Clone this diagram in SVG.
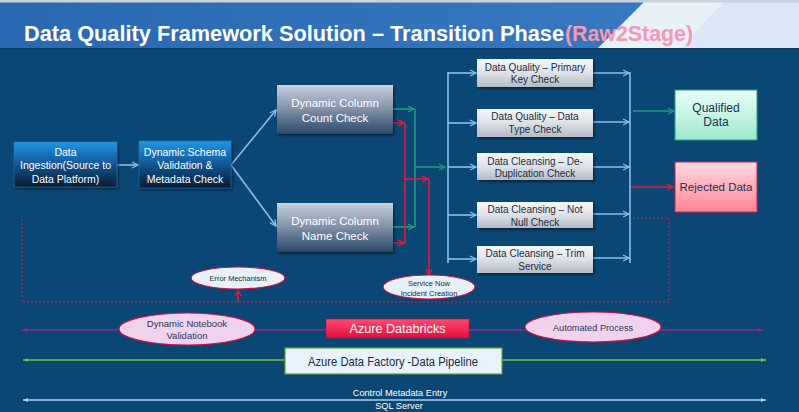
<svg xmlns="http://www.w3.org/2000/svg" width="799" height="412" viewBox="0 0 799 412">
<defs>
<style>
.t{font-family:"Liberation Sans",Arial,sans-serif;text-anchor:middle}
.w{fill:#ffffff}
.d{fill:#1c2c44}
.bl{fill:none;stroke:#8fbce6;stroke-width:1.6}
.gr{fill:none;stroke:#1f9a7c;stroke-width:1.6}
.rd{fill:none;stroke:#e8183c;stroke-width:1.6}
.dot{fill:none;stroke:#d0204a;stroke-width:1;stroke-dasharray:2,2}
.ell{stroke:#c8104a;stroke-width:1.2}
</style>
<linearGradient id="gTitle" x1="0" y1="0" x2="1" y2="0"><stop offset="0" stop-color="#2a69b2"/><stop offset="1" stop-color="#3a7cc4"/></linearGradient>
<linearGradient id="gIng" x1="0" y1="0" x2="0" y2="1"><stop offset="0" stop-color="#2196e6"/><stop offset="0.45" stop-color="#135c9c"/><stop offset="1" stop-color="#061a30"/></linearGradient>
<linearGradient id="gDyn" x1="0" y1="0" x2="0" y2="1"><stop offset="0" stop-color="#c8d0dc"/><stop offset="0.45" stop-color="#8797ad"/><stop offset="1" stop-color="#2c4868"/></linearGradient>
<linearGradient id="gChk" x1="0" y1="0" x2="0" y2="1"><stop offset="0" stop-color="#f6f7f9"/><stop offset="0.5" stop-color="#dde1e7"/><stop offset="1" stop-color="#b4bac4"/></linearGradient>
<linearGradient id="gQ" x1="0" y1="0" x2="0" y2="1"><stop offset="0" stop-color="#eafff8"/><stop offset="1" stop-color="#9ee8cf"/></linearGradient>
<linearGradient id="gR" x1="0" y1="0" x2="0" y2="1"><stop offset="0" stop-color="#ffdadf"/><stop offset="1" stop-color="#ff8596"/></linearGradient>
<linearGradient id="gAD" x1="0" y1="0" x2="0" y2="1"><stop offset="0" stop-color="#ff4a72"/><stop offset="1" stop-color="#e0103c"/></linearGradient>
<filter id="sh" x="-10%" y="-10%" width="130%" height="140%"><feDropShadow dx="1.5" dy="2" stdDeviation="1.2" flood-color="#000000" flood-opacity="0.45"/></filter>
<marker id="mb" viewBox="0 0 8 8" refX="7" refY="4" markerWidth="8" markerHeight="8" orient="auto" markerUnits="userSpaceOnUse"><path d="M1,1 L7,4 L1,7" fill="none" stroke="#8fbce6" stroke-width="1.3"/></marker>
<marker id="mg" viewBox="0 0 8 8" refX="7" refY="4" markerWidth="8" markerHeight="8" orient="auto" markerUnits="userSpaceOnUse"><path d="M1,1 L7,4 L1,7" fill="none" stroke="#1f9a7c" stroke-width="1.3"/></marker>
<marker id="mr" viewBox="0 0 8 8" refX="7" refY="4" markerWidth="8" markerHeight="8" orient="auto" markerUnits="userSpaceOnUse"><path d="M1,1 L7,4 L1,7" fill="none" stroke="#e8183c" stroke-width="1.3"/></marker>
<marker id="mp" viewBox="0 0 6 6" refX="5" refY="3" markerWidth="6" markerHeight="6" orient="auto-start-reverse" markerUnits="userSpaceOnUse"><path d="M0,1 L5,3 L0,5 Z" fill="#8c2a8c"/></marker>
<marker id="mlg" viewBox="0 0 6 6" refX="5" refY="3" markerWidth="6" markerHeight="6" orient="auto-start-reverse" markerUnits="userSpaceOnUse"><path d="M0,1 L5,3 L0,5 Z" fill="#78c030"/></marker>
<marker id="mlb" viewBox="0 0 6 6" refX="5" refY="3" markerWidth="6" markerHeight="6" orient="auto-start-reverse" markerUnits="userSpaceOnUse"><path d="M0,1 L5,3 L0,5 Z" fill="#a8cff0"/></marker>
</defs>

<!-- background -->
<rect x="0" y="0" width="799" height="412" fill="#0a4775"/>
<rect x="0" y="0" width="799" height="49" fill="url(#gTitle)"/>
<polygon points="644,2 799,2 799,49 597,49" fill="#e8f0f8"/>
<polygon points="724,2 799,2 799,49 679,49" fill="#dbe7f4"/>
<rect x="0" y="0" width="799" height="2.5" fill="#c9d3de"/>
<rect x="0" y="48" width="799" height="1.5" fill="#0a3a66"/>

<g id="title">
<text x="24" y="41" font-family="'Liberation Sans',Arial,sans-serif" font-weight="bold" font-size="22" fill="#ffffff" textLength="540" lengthAdjust="spacingAndGlyphs">Data Quality Framework Solution – Transition Phase</text>
<text x="565" y="41" font-family="'Liberation Sans',Arial,sans-serif" font-weight="bold" font-size="22" fill="#f598b4" textLength="128" lengthAdjust="spacingAndGlyphs">(Raw2Stage)</text>
</g>

<g id="connectors">
<path class="bl" d="M117,165 H138" marker-end="url(#mb)"/>
<path class="bl" d="M231,165 L276,110" marker-end="url(#mb)"/>
<path class="bl" d="M231,165 L276,226" marker-end="url(#mb)"/>
<path class="gr" d="M393,109 H414" marker-end="url(#mg)"/>
<path class="gr" d="M393,227 H414" marker-end="url(#mg)"/>
<path class="gr" d="M415,109 V227"/>
<path class="gr" d="M415,167 H445" marker-end="url(#mg)"/>
<path class="rd" d="M393,123 H404" marker-end="url(#mr)"/>
<path class="rd" d="M393,243 H404" marker-end="url(#mr)"/>
<path class="rd" d="M405,123 V243"/>
<path class="rd" d="M404,179 H428" marker-end="url(#mr)"/>
<path class="rd" d="M429,179 V275" marker-end="url(#mr)"/>
<path class="bl" d="M448,72 V263"/>
<path class="bl" d="M448,73 H476" marker-end="url(#mb)"/>
<path class="bl" d="M448,123 H476" marker-end="url(#mb)"/>
<path class="bl" d="M448,167 H476" marker-end="url(#mb)"/>
<path class="bl" d="M448,215 H476" marker-end="url(#mb)"/>
<path class="bl" d="M448,259 H476" marker-end="url(#mb)"/>
<path class="bl" d="M593,73 H629" marker-end="url(#mb)"/>
<path class="bl" d="M593,122 H629" marker-end="url(#mb)"/>
<path class="bl" d="M593,167 H629" marker-end="url(#mb)"/>
<path class="bl" d="M593,214 H629" marker-end="url(#mb)"/>
<path class="bl" d="M593,258 H629" marker-end="url(#mb)"/>
<path class="bl" d="M630,72 V263"/>
<path class="gr" d="M633,111 H674" marker-end="url(#mg)"/>
<path class="rd" d="M631,187 H673" marker-end="url(#mr)"/>
<path class="dot" d="M633,218 H669 V302 H22 V218"/>
<path class="rd" d="M238,302 V290" marker-end="url(#mr)"/>
<path d="M22,330 H763" stroke="#8c2a8c" stroke-width="1.6" fill="none" marker-start="url(#mp)" marker-end="url(#mp)"/>
<path d="M23,360 H766" stroke="#78c030" stroke-width="1.6" fill="none" marker-start="url(#mlg)" marker-end="url(#mlg)"/>
<path d="M23,400 H766" stroke="#a8cff0" stroke-width="1.6" fill="none" marker-start="url(#mlb)" marker-end="url(#mlb)"/>
</g>

<g id="data-ingestion">
<rect x="14" y="142" width="103" height="45" fill="url(#gIng)" stroke="#1f78c0" stroke-width="0.6" filter="url(#sh)"/>
<text class="t w" font-size="10.5"><tspan x="65.5" y="156">Data</tspan><tspan x="65.5" y="169">Ingestion(Source to</tspan><tspan x="65.5" y="183">Data Platform)</tspan></text>
</g>

<g id="dynamic-schema">
<rect x="139" y="141" width="92" height="47" fill="url(#gIng)" stroke="#1f78c0" stroke-width="0.6" filter="url(#sh)"/>
<text class="t w" font-size="10.5"><tspan x="185" y="156">Dynamic Schema</tspan><tspan x="185" y="169">Validation &amp;</tspan><tspan x="185" y="183">Metadata Check</tspan></text>
</g>

<g id="column-count-check">
<rect x="277" y="85" width="116" height="49" fill="url(#gDyn)" filter="url(#sh)"/>
<text class="t w" font-size="11.5"><tspan x="335" y="107">Dynamic Column</tspan><tspan x="335" y="122">Count Check</tspan></text>
</g>

<g id="column-name-check">
<rect x="277" y="203" width="116" height="49" fill="url(#gDyn)" filter="url(#sh)"/>
<text class="t w" font-size="11.5"><tspan x="335" y="225">Dynamic Column</tspan><tspan x="335" y="240">Name Check</tspan></text>
</g>

<g id="dq-primary-key">
<rect x="477" y="59" width="116" height="28" fill="url(#gChk)" filter="url(#sh)"/>
<text class="t d" font-size="10"><tspan x="535" y="70.5">Data Quality – Primary</tspan><tspan x="535" y="83">Key  Check</tspan></text>
</g>

<g id="dq-data-type">
<rect x="477" y="109" width="116" height="28" fill="url(#gChk)" filter="url(#sh)"/>
<text class="t d" font-size="10"><tspan x="535" y="120">Data Quality – Data</tspan><tspan x="535" y="133">Type Check</tspan></text>
</g>

<g id="dc-dedup">
<rect x="477" y="153" width="116" height="27" fill="url(#gChk)" filter="url(#sh)"/>
<text class="t d" font-size="10"><tspan x="535" y="164.5">Data Cleansing – De-</tspan><tspan x="535" y="177">Duplication Check</tspan></text>
</g>

<g id="dc-not-null">
<rect x="477" y="202" width="116" height="26" fill="url(#gChk)" filter="url(#sh)"/>
<text class="t d" font-size="10"><tspan x="535" y="212.5">Data Cleansing – Not</tspan><tspan x="535" y="225.5">Null Check</tspan></text>
</g>

<g id="dc-trim">
<rect x="477" y="246" width="116" height="27" fill="url(#gChk)" filter="url(#sh)"/>
<text class="t d" font-size="10"><tspan x="535" y="256.5">Data Cleansing – Trim</tspan><tspan x="535" y="269.5">Service</tspan></text>
</g>

<g id="qualified-data">
<rect x="675" y="90" width="82" height="50" fill="url(#gQ)" stroke="#2aa07e" stroke-width="1"/>
<text class="t" font-size="12" fill="#1c3050"><tspan x="716" y="112">Qualified</tspan><tspan x="716" y="126">Data</tspan></text>
</g>

<g id="rejected-data">
<rect x="675" y="162" width="82" height="50" fill="url(#gR)" stroke="#c82050" stroke-width="1"/>
<text class="t" font-size="11.5" fill="#1c3050" x="716" y="191">Rejected Data</text>
</g>

<g id="error-mechanism">
<ellipse class="ell" cx="238" cy="278" rx="47" ry="11" fill="#e8f0f8"/>
<text class="t" font-size="7.5" fill="#1c2c44" x="238" y="280.5">Error Mechanism</text>
</g>

<g id="service-now">
<ellipse class="ell" cx="429" cy="287" rx="46" ry="12" fill="#e8f0f8"/>
<text class="t" font-size="7.5" fill="#1c2c44"><tspan x="429" y="286">Service Now</tspan><tspan x="429" y="296">Incident Creation</tspan></text>
</g>

<g id="notebook-validation">
<ellipse class="ell" cx="187" cy="329" rx="68" ry="16" fill="#f0d2ec"/>
<text class="t" font-size="9.5" fill="#2a3a60"><tspan x="187" y="327">Dynamic Notebook</tspan><tspan x="187" y="339">Validation</tspan></text>
</g>

<g id="azure-databricks">
<rect x="326" y="319" width="143" height="19" fill="url(#gAD)" stroke="#c00a30" stroke-width="0.6"/>
<text class="t w" font-size="13" x="397.5" y="333" textLength="96" lengthAdjust="spacingAndGlyphs">Azure Databricks</text>
</g>

<g id="automated-process">
<ellipse class="ell" cx="593" cy="327" rx="68" ry="15" fill="#f0d2ec"/>
<text class="t" font-size="9.2" fill="#2a3a60" x="593" y="330.5">Automated Process</text>
</g>

<g id="azure-data-factory">
<rect x="285" y="348" width="217" height="26" fill="#e8f2fa" stroke="#5ea02e" stroke-width="1.2"/>
<text class="t" font-size="12.5" fill="#1a2a4a" x="393" y="365.5" textLength="170" lengthAdjust="spacingAndGlyphs">Azure Data Factory -Data Pipeline</text>
</g>

<g id="sql-server">
<text class="t w" font-size="9.2" x="400" y="396">Control Metadata Entry</text>
<text class="t w" font-size="9.2" x="399" y="408.5">SQL Server</text>
</g>
</svg>
